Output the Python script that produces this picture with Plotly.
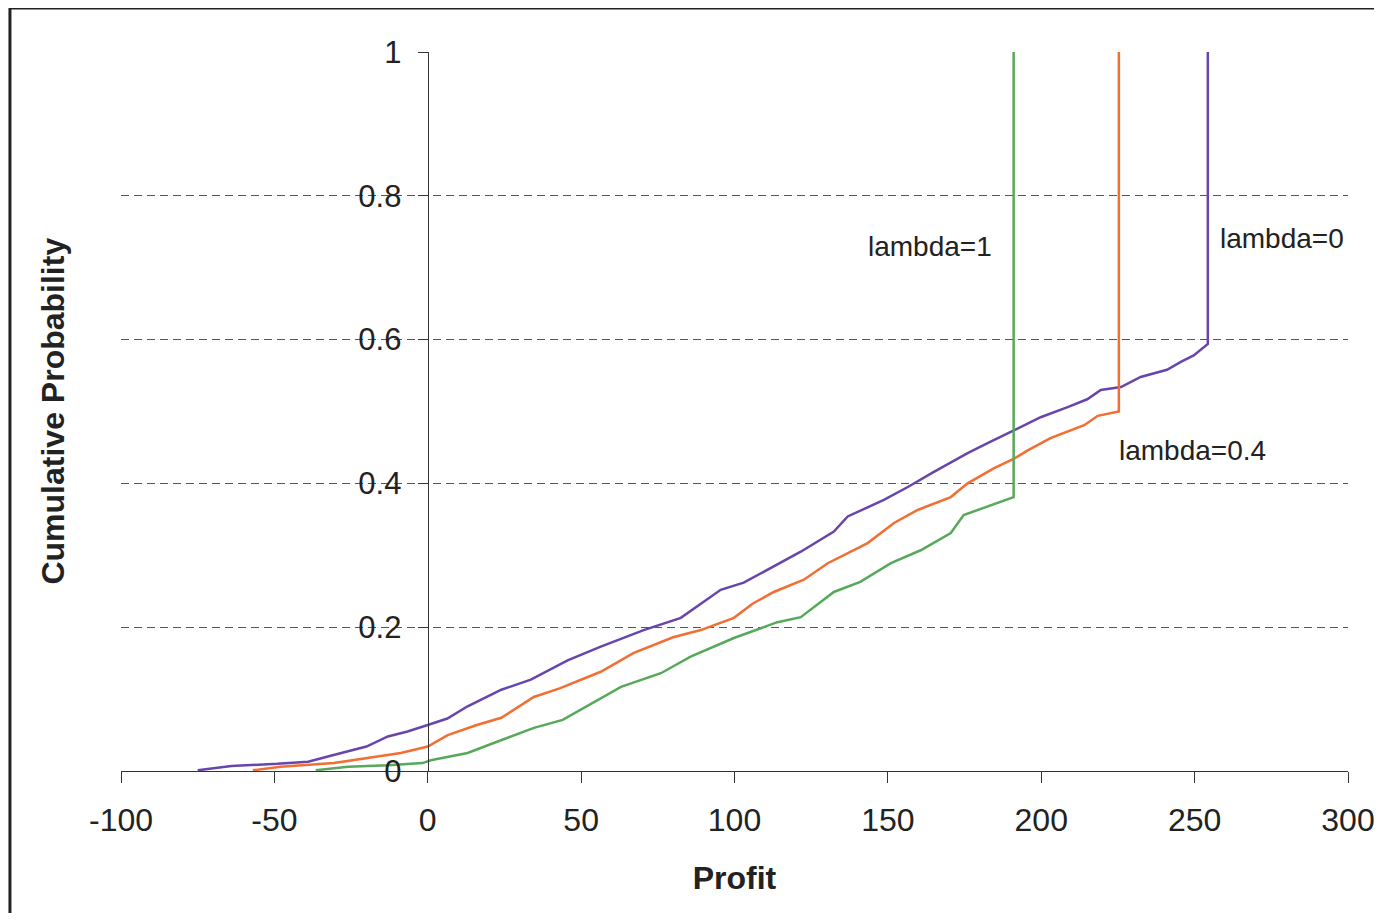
import plotly.graph_objects as go

# ---- data (Profit, Cumulative Probability) ----
profit_l0 = [-75, -64, -49, -39, -31, -20, -13, -6.6, 0, 6.4, 13, 24, 33.6, 45.6, 56.4,
             70.4, 82.5, 89, 95.5, 103, 110.8, 121.6, 132.4, 136.9, 148.7, 156.5, 165,
             176, 182.5, 191, 199.8, 208.6, 215, 219.4, 226, 232.4, 241, 245.5, 249.7,
             254.3, 254.3]
prob_l0 = [0.001, 0.007, 0.010, 0.013, 0.022, 0.034, 0.048, 0.055, 0.064, 0.073, 0.090,
           0.113, 0.127, 0.154, 0.173, 0.196, 0.213, 0.233, 0.252, 0.262, 0.280, 0.305,
           0.333, 0.354, 0.377, 0.395, 0.416, 0.442, 0.456, 0.474, 0.492, 0.506, 0.517,
           0.530, 0.534, 0.548, 0.558, 0.569, 0.578, 0.594, 1.0]

profit_l04 = [-57, -48, -30.6, -19.6, -8.8, 0, 6.5, 16, 24, 34.6, 43, 56.4, 67, 80, 89,
              99.8, 106, 112.8, 122.6, 130.4, 143.4, 152, 159.7, 170.5, 176, 184.5, 191,
              195.6, 203, 214, 218.4, 225.3, 225.3]
prob_l04 = [0.001, 0.006, 0.011, 0.018, 0.025, 0.034, 0.050, 0.064, 0.074, 0.103, 0.115,
            0.138, 0.164, 0.186, 0.196, 0.213, 0.233, 0.249, 0.266, 0.289, 0.317, 0.345,
            0.363, 0.381, 0.400, 0.421, 0.434, 0.446, 0.463, 0.481, 0.494, 0.500, 1.0]

profit_l1 = [-36.5, -26, -13, -1.7, 1, 13, 21.5, 34.6, 44, 56.4, 63, 76, 85.7, 99.8, 114,
             121.6, 132.4, 141, 151, 160.7, 170.5, 174.7, 186.8, 191, 191]
prob_l1 = [0.001, 0.006, 0.008, 0.011, 0.015, 0.025, 0.039, 0.060, 0.071, 0.101, 0.117,
           0.136, 0.159, 0.185, 0.207, 0.214, 0.249, 0.263, 0.289, 0.307, 0.331, 0.356,
           0.374, 0.381, 1.0]

x_ticks = [-100, -50, 0, 50, 100, 150, 200, 250, 300]
y_ticks = [0, 0.2, 0.4, 0.6, 0.8, 1]
y_grid = [0.2, 0.4, 0.6, 0.8]

labels = ["lambda=1", "lambda=0", "lambda=0.4"]
label_x = [163.7, 278.4, 249.4]
label_y = [0.729, 0.740, 0.446]

PURPLE = "#6845ac"
ORANGE = "#f26e32"
GREEN = "#58a85a"
FONT = "Liberation Sans, Arial, sans-serif"
TXT = "#222222"

fig = go.Figure()
for xs, ys, col, nm in [(profit_l0, prob_l0, PURPLE, "lambda=0"),
                        (profit_l04, prob_l04, ORANGE, "lambda=0.4"),
                        (profit_l1, prob_l1, GREEN, "lambda=1")]:
    fig.add_trace(go.Scatter(x=xs, y=ys, mode="lines", name=nm,
                             line=dict(color=col, width=2.5), showlegend=False))

# invisible trace on overlay axis to carry the dashed gridlines
fig.add_trace(go.Scatter(x=[None], y=[None], yaxis="y2", showlegend=False))

for t, xx, yy in zip(labels, label_x, label_y):
    fig.add_annotation(x=xx, y=yy, xref="x", yref="y", text=t, showarrow=False,
                       font=dict(family=FONT, size=28, color=TXT))

fig.add_annotation(x=-0.0562, y=0.5, xref="paper", yref="paper", xanchor="center",
                   yanchor="middle",
                   text="<b>Cumulative Probability</b>", textangle=-90,
                   showarrow=False, font=dict(family=FONT, size=32, color=TXT))

# outer frame
fig.add_shape(type="rect", xref="paper", yref="paper", x0=-0.0905, y0=-0.35,
              x1=1.2, y1=1.0612, line=dict(color="#222222", width=3))

fig.update_layout(
    width=1366, height=905,
    margin=dict(l=113, r=26, t=44, b=142, autoexpand=False),
    paper_bgcolor="white", plot_bgcolor="white",
    font=dict(family=FONT, size=31, color=TXT),
    xaxis=dict(range=[-100, 300], tickvals=x_ticks, ticktext=[str(v) for v in x_ticks],
               showgrid=False, zeroline=False, showline=True, linecolor="#333333",
               linewidth=1.3, ticks="outside", ticklen=11, tickcolor="#333333",
               tickwidth=1.3, anchor="y", ticklabelstandoff=9, automargin=False,
               ticklabeloverflow="allow",
               tickfont=dict(family=FONT, size=32, color=TXT),
               title=dict(text="<b>Profit</b>", standoff=30,
                          font=dict(family=FONT, size=32, color=TXT))),
    yaxis=dict(range=[0, 1], tickvals=y_ticks, ticktext=["0", "0.2", "0.4", "0.6", "0.8", "1"],
               showgrid=False, zeroline=False, showline=True, linecolor="#333333",
               linewidth=1.3, ticks="outside", ticklen=10, tickcolor="#333333",
               tickwidth=1.3, anchor="free", position=0.25, ticklabelstandoff=10,
               automargin=False, ticklabeloverflow="allow",
               tickfont=dict(family=FONT, size=31, color=TXT)),
    yaxis2=dict(range=[0, 1], overlaying="y", tickvals=y_grid, showticklabels=False,
                showgrid=True, gridcolor="#555555", gridwidth=1.2, griddash="8px,5px",
                zeroline=False, showline=False, ticks="", automargin=False),
)

fig.write_html("out.html")
